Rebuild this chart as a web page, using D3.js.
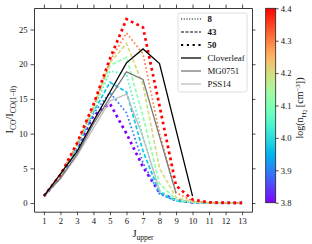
<!DOCTYPE html>
<html>
<head>
<meta charset="utf-8">
<script src="https://cdn.jsdelivr.net/npm/d3@7"></script>
<style>
body { margin: 0; background: #fff; }
text { font-family: "Liberation Serif", serif; fill: #111; }
</style>
</head>
<body>
<svg id="chart" width="312" height="244"></svg>
<script>
// J_upper values
const jUpper = [1, 2, 3, 4, 5, 6, 7, 8, 9, 10, 11, 12, 13];

// model grid: log density, legend style, line ratios
const modelDensity = [3.8, 3.9, 3.97, 4.05, 4.12, 4.2, 4.3, 4.4];
const modelStyle = ["50", "8", "43", "8", "43", "43", "8", "50"];
const modelRatios = [
  [1, 3.7, 7.9, 12.6, 14.3, 10.0, 5.2, 1.5, 0.4, 0.1, 0.04, 0.02, 0.02],
  [1, 3.75, 8.0, 12.9, 15.9, 13.0, 5.8, 1.3, 0.3, 0.08, 0.03, 0.02, 0.02],
  [1, 3.8, 8.1, 13.1, 17.4, 16.0, 7.5, 1.5, 0.3, 0.08, 0.03, 0.02, 0.02],
  [1, 3.85, 8.2, 13.3, 19.0, 18.6, 9.5, 1.8, 0.35, 0.1, 0.03, 0.02, 0.02],
  [1, 3.9, 8.3, 13.5, 19.8, 21.0, 12.5, 2.8, 0.5, 0.12, 0.04, 0.02, 0.02],
  [1, 3.95, 8.4, 13.7, 20.2, 23.0, 17.0, 5.0, 0.8, 0.15, 0.05, 0.02, 0.02],
  [1, 4.0, 8.5, 13.9, 20.5, 24.5, 21.5, 10.0, 1.5, 0.3, 0.06, 0.03, 0.02],
  [1, 4.05, 8.6, 14.2, 20.8, 26.5, 25.3, 14.0, 2.5, 0.5, 0.1, 0.04, 0.03]
];

// observed SLEDs
const cloverleafJ = [1, 3, 4, 5, 6, 7, 8, 10];
const cloverleafR = [1, 7.4, 11.8, 16.0, 20.2, 22.2, 20.1, 1.0];
const mg0751J = [1, 2, 3, 4, 5, 6, 7, 9];
const mg0751R = [1, 3.6, 7.0, 11.4, 15.2, 18.9, 17.8, 1.4];
const pss14J = [1, 2, 3, 4, 5, 6, 7, 8];
const pss14R = [1, 3.5, 6.8, 10.8, 14.7, 15.7, 9.5, 1.8];

const xTicks = [1, 2, 3, 4, 5, 6, 7, 8, 9, 10, 11, 12, 13];
const yTicks = [0, 5, 10, 15, 20, 25];
const cbarTicks = [3.8, 3.9, 4.0, 4.1, 4.2, 4.3, 4.4];
const styleLabels = ["8", "43", "50"];
const obsLabels = ["Cloverleaf", "MG0751", "PSS14"];
const obsColors = ["#000000", "#7a7a7a", "#bdbdbd"];

const lineStyles = {
  "8": { width: 1.7, dash: "1.7,2.3" },
  "43": { width: 1.7, dash: "4,2" },
  "50": { width: 2.7, dash: "2.7,3.4" }
};

const svg = d3.select("#chart");
const plotLeft = 34, plotRight = 252, plotTop = 8, plotBottom = 211.7;

const x = d3.scaleLinear().domain([0.4, 13.6]).range([plotLeft, plotRight]);
const y = d3.scaleLinear().domain([-1.25, 28.1]).range([plotBottom, plotTop]);

// matplotlib "rainbow"
function rainbow(t) {
  let r = Math.min(1, Math.abs(2 * t - 0.5));
  let g = Math.sin(Math.PI * t);
  let b = Math.cos(Math.PI * t / 2);
  return d3.rgb(r * 255, g * 255, b * 255).formatHex();
}
const color = d3.scaleSequential(rainbow).domain([3.8, 4.4]);

// model lines
let line = d3.line()
  .x(function(d) { return x(d[0]); })
  .y(function(d) { return y(d[1]); });

let models = modelDensity.map(function(n, i) {
  return {
    n: n,
    style: modelStyle[i],
    pts: jUpper.map(function(j, k) { return [j, modelRatios[i][k]]; })
  };
});

svg.append("g").selectAll("path")
  .data(models)
  .enter()
  .append("path")
  .attr("d", function(d) { return line(d.pts); })
  .attr("fill", "none")
  .attr("stroke", function(d) { return color(d.n); })
  .attr("stroke-width", function(d) { return lineStyles[d.style].width; })
  .attr("stroke-dasharray", function(d) { return lineStyles[d.style].dash; });

// observations on top
let obs = [
  { pts: cloverleafJ.map(function(j, k) { return [j, cloverleafR[k]]; }), c: obsColors[0] },
  { pts: mg0751J.map(function(j, k) { return [j, mg0751R[k]]; }), c: obsColors[1] },
  { pts: pss14J.map(function(j, k) { return [j, pss14R[k]]; }), c: obsColors[2] }
];
svg.append("g").selectAll("path")
  .data(obs.slice().reverse())
  .enter()
  .append("path")
  .attr("d", function(d) { return line(d.pts); })
  .attr("fill", "none")
  .attr("stroke", function(d) { return d.c; })
  .attr("stroke-width", 1.3);

// frame + ticks on all four sides
function styleAxis(g) {
  g.selectAll("path").attr("stroke", "#222").attr("stroke-width", 0.9);
  g.selectAll("line").attr("stroke", "#222").attr("stroke-width", 0.8);
  g.selectAll("text").attr("font-size", 8.6).attr("font-family", "Liberation Serif").attr("fill", "#111");
}
svg.append("g").attr("transform", "translate(0," + plotBottom + ")")
  .call(d3.axisBottom(x).tickValues(xTicks).tickSize(3.5).tickSizeOuter(0).tickPadding(3))
  .call(styleAxis);
svg.append("g").attr("transform", "translate(0," + plotTop + ")")
  .call(d3.axisTop(x).tickValues(xTicks).tickSize(3.5).tickSizeOuter(0).tickFormat(""))
  .call(styleAxis);
svg.append("g").attr("transform", "translate(" + plotLeft + ",0)")
  .call(d3.axisLeft(y).tickValues(yTicks).tickSize(3.5).tickSizeOuter(0).tickPadding(3))
  .call(styleAxis);
svg.append("g").attr("transform", "translate(" + plotRight + ",0)")
  .call(d3.axisRight(y).tickValues(yTicks).tickSize(3.5).tickSizeOuter(0).tickFormat(""))
  .call(styleAxis);

// axis labels
let xl = svg.append("text").attr("x", 143).attr("y", 237).attr("text-anchor", "middle").attr("font-size", 10.5);
xl.append("tspan").text("J");
xl.append("tspan").attr("dy", 2.5).attr("font-size", 7.5).text("upper");

let yl = svg.append("text")
  .attr("transform", "translate(13," + ((plotTop + plotBottom) / 2) + ") rotate(-90)")
  .attr("text-anchor", "middle").attr("font-size", 10.5);
yl.append("tspan").text("I");
yl.append("tspan").attr("dy", 2.5).attr("font-size", 7.5).text("CO");
yl.append("tspan").attr("dy", -2.5).text("/I");
yl.append("tspan").attr("dy", 2.5).attr("font-size", 7.5).text("CO(1\u22120)");

// legend
let lg = svg.append("g");
lg.append("rect").attr("x", 178).attr("y", 13).attr("width", 69).attr("height", 79)
  .attr("rx", 2).attr("fill", "#fff").attr("fill-opacity", 0.85)
  .attr("stroke", "#d6d6d6").attr("stroke-width", 0.8);
let rowY = [19, 32, 45, 58, 71, 84];
let legendStyle = {
  "8": { width: 1.1, dash: "1.1,1.6" },
  "43": { width: 1.1, dash: "3,1.5" },
  "50": { width: 2.2, dash: "2.2,3.6" }
};
styleLabels.forEach(function(s, i) {
  lg.append("line").attr("x1", 181).attr("x2", 201).attr("y1", rowY[i]).attr("y2", rowY[i])
    .attr("stroke", "#000").attr("stroke-width", legendStyle[s].width)
    .attr("stroke-dasharray", legendStyle[s].dash);
  lg.append("text").attr("x", 207.5).attr("y", rowY[i] + 3).attr("font-size", 8.8)
    .attr("font-weight", "bold").text(s);
});
obsLabels.forEach(function(s, i) {
  let yy = rowY[i + 3];
  lg.append("line").attr("x1", 181).attr("x2", 201).attr("y1", yy).attr("y2", yy)
    .attr("stroke", obsColors[i]).attr("stroke-width", 1.3);
  lg.append("text").attr("x", 207.5).attr("y", yy + 3).attr("font-size", 8.8).text(s);
});

// colorbar
let cbX = 265.7, cbW = 10, cbTop = 8.3, cbBot = 202.7;
let grad = svg.append("defs").append("linearGradient").attr("id", "cbgrad")
  .attr("x1", 0).attr("y1", 1).attr("x2", 0).attr("y2", 0);
d3.range(0, 1.0001, 0.05).forEach(function(t) {
  grad.append("stop").attr("offset", t).attr("stop-color", rainbow(t));
});
svg.append("rect").attr("x", cbX).attr("y", cbTop).attr("width", cbW).attr("height", cbBot - cbTop)
  .attr("fill", "url(#cbgrad)").attr("stroke", "#222").attr("stroke-width", 0.8);
let cy = d3.scaleLinear().domain([3.8, 4.4]).range([cbBot, cbTop]);
svg.append("g").attr("transform", "translate(" + (cbX + cbW) + ",0)")
  .call(d3.axisRight(cy).tickValues(cbarTicks).tickSize(3).tickSizeOuter(0).tickPadding(2).tickFormat(d3.format(".1f")))
  .call(styleAxis)
  .call(function(g) { g.select("path").remove(); });

let cl = svg.append("text")
  .attr("transform", "translate(303," + 108 + ") rotate(-90)")
  .attr("text-anchor", "middle").attr("font-size", 10);
cl.append("tspan").text("log(n");
cl.append("tspan").attr("dy", 2.5).attr("font-size", 7).text("H");
cl.append("tspan").attr("dy", 1.5).attr("font-size", 5.5).text("2");
cl.append("tspan").attr("dy", -4).text(" [cm");
cl.append("tspan").attr("dy", -3.5).attr("font-size", 7).text("\u22123");
cl.append("tspan").attr("dy", 3.5).text("])");
</script>
</body>
</html>
